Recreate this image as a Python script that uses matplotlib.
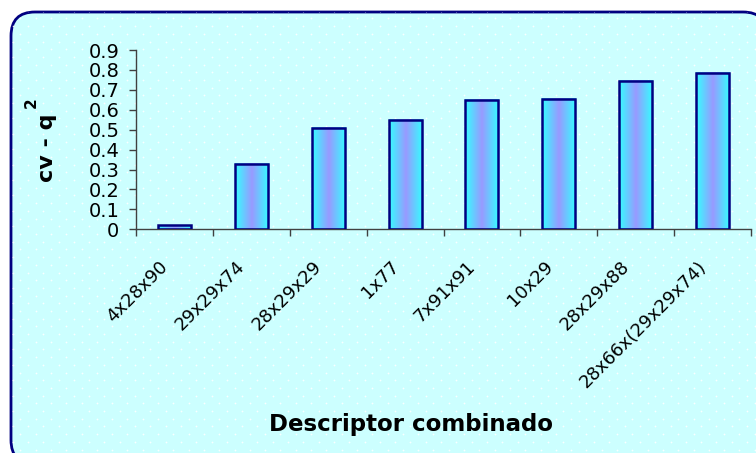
import matplotlib
matplotlib.use('Agg')
import matplotlib.pyplot as plt
import matplotlib.transforms as mtransforms
import numpy as np
from matplotlib.patches import FancyBboxPatch
from matplotlib.colors import LinearSegmentedColormap

# Data
descriptors = ['4x28x90', '29x29x74', '28x29x29', '1x77', '7x91x91',
               '10x29', '28x29x88', '28x66x(29x29x74)']
cv_q2 = [0.02, 0.33, 0.51, 0.55, 0.65, 0.655, 0.745, 0.785]
y_ticks = [0, 0.1, 0.2, 0.3, 0.4, 0.5, 0.6, 0.7, 0.8, 0.9]
y_tick_labels = ['0', '0.1', '0.2', '0.3', '0.4', '0.5', '0.6', '0.7', '0.8', '0.9']

W, H = 756, 453
fig = plt.figure(figsize=(W / 100, H / 100), dpi=100)
fig.patch.set_facecolor('white')

# Rounded light-cyan panel with a white dot pattern (pixel coords, y down)
bg = fig.add_axes([0, 0, 1, 1], zorder=0)
bg.set_xlim(0, W)
bg.set_ylim(H, 0)
bg.axis('off')
panel = FancyBboxPatch((11, 12), 756, 452,
                       boxstyle='round,pad=0,rounding_size=24',
                       facecolor='#ccffff', edgecolor='#000080', linewidth=2)
bg.add_patch(panel)
dot_x, dot_y = [], []
for i, yy in enumerate(np.arange(3, H, 7.7)):
    off = 7.65 if i % 2 else 0
    xx = np.arange(5 + off, W, 15.3)
    dot_x.extend(xx)
    dot_y.extend([yy] * len(xx))
dots = bg.scatter(dot_x, dot_y, s=1.6, color='white', alpha=0.9, linewidths=0, zorder=1)
dots.set_clip_path(panel)

# Main axes
ax = fig.add_axes([136 / W, 1 - 229.3 / H, 615 / W, 179.3 / H], zorder=1)
ax.set_facecolor('none')
x = np.arange(len(descriptors))

grad_cmap = LinearSegmentedColormap.from_list(
    'bar', ['#33ffff', '#9999ff', '#33ffff'])
grad = np.linspace(0, 1, 256).reshape(1, -1)
bar_w = 0.43
bars = ax.bar(x, cv_q2, width=bar_w, facecolor='none',
              edgecolor='#000080', linewidth=1.8, zorder=3)
for b in bars:
    ax.imshow(grad, cmap=grad_cmap, aspect='auto', zorder=2,
              extent=[b.get_x(), b.get_x() + b.get_width(), 0, b.get_height()])
ax.set_xlim(-0.5, len(descriptors) - 0.5)
ax.set_ylim(0, 0.9)

for s in ['top', 'right']:
    ax.spines[s].set_visible(False)
for s in ['left', 'bottom']:
    ax.spines[s].set_color('#404040')
    ax.spines[s].set_linewidth(1)

ax.set_yticks(y_ticks)
ax.set_yticklabels(y_tick_labels, fontsize=14, family='DejaVu Sans')
ax.tick_params(axis='y', direction='out', length=5, width=1, color='#404040', pad=7)

ax.set_xticks(np.arange(-0.5, len(descriptors), 1))
ax.set_xticklabels([])
ax.tick_params(axis='x', which='major', direction='out', length=5, width=1, color='#404040')
ax.set_xticks(x, minor=True)
ax.set_xticklabels(descriptors, minor=True, rotation=45, ha='right', va='center',
                   rotation_mode='anchor', fontsize=13, family='DejaVu Sans')
ax.tick_params(axis='x', which='minor', length=0, pad=25)
shift = mtransforms.ScaledTranslation(-0.09, 0, fig.dpi_scale_trans)
for lbl in ax.get_xticklabels(minor=True):
    lbl.set_transform(lbl.get_transform() + shift)

ax.set_xlabel('Descriptor combinado', fontsize=16.5, fontweight='bold', family='DejaVu Sans')
ax.xaxis.set_label_coords((411 - 136) / 615, (229.3 - 425) / 179.3)
ax.xaxis.label.set_va('center')

ax.set_ylabel('cv - q', fontsize=16, fontweight='bold', family='DejaVu Sans')
ax.yaxis.set_label_coords((47 - 136) / 615, (229.3 - 147.5) / 179.3)
ax.yaxis.label.set_va('center')
fig.text(31 / W, 1 - 103 / H, '2', rotation=90, fontsize=11, fontweight='bold',
         ha='center', va='center')

plt.savefig('out.png', dpi=100)
